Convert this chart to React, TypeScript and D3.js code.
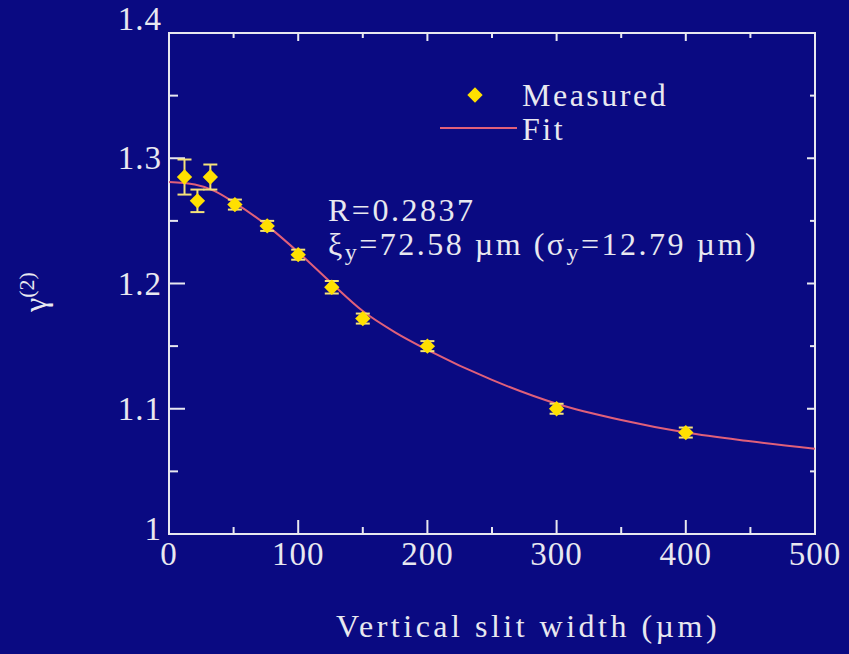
import React from 'react';
import * as d3 from 'd3';

// measured points: slit width (µm), g2 value, error
const slitWidth = [12, 22, 32, 51, 76, 100, 126, 150, 200, 300, 400];
const g2Measured = [1.285, 1.266, 1.285, 1.263, 1.246, 1.223, 1.197, 1.172, 1.150, 1.100, 1.081];
const g2Error = [0.014, 0.009, 0.010, 0.004, 0.004, 0.004, 0.005, 0.004, 0.004, 0.004, 0.004];

// fit curve
const fitX = [0, 20, 35, 50, 75, 100, 125, 150, 175, 200, 250, 300, 350, 400, 450, 500];
const fitY = [1.281, 1.279, 1.274, 1.265, 1.247, 1.225, 1.201, 1.178, 1.161, 1.147, 1.123, 1.104, 1.091, 1.081, 1.074, 1.068];

const xTicks = [0, 100, 200, 300, 400, 500];
const yTicks = [1, 1.1, 1.2, 1.3, 1.4];

const W = 849;
const H = 654;
const BG = '#0a0a82';
const FG = '#e8e8f0';
const FONT = '"Liberation Serif", "DejaVu Serif", serif';

export default function App() {
  const x = d3.scaleLinear().domain([0, 500]).range([169, 815]);
  const y = d3.scaleLinear().domain([1, 1.4]).range([534, 33]);

  const fitData = fitX.map((v, i) => [v, fitY[i]] as [number, number]);
  const line = d3.line<[number, number]>()
    .x(d => x(d[0]))
    .y(d => y(d[1]))
    .curve(d3.curveMonotoneX);

  const xMinor = d3.range(0, 501, 50);
  const yMinor = d3.range(1, 1.4001, 0.05);

  const marker = d3.symbol().type(d3.symbolDiamond2).size(150)();

  return (
    <div style={{ position: 'absolute', left: 0, top: 0, background: BG, width: W, height: H }}>
      <svg width={W} height={H} style={{ display: 'block' }}>
        <rect width={W} height={H} fill={BG} />

        {/* frame */}
        <rect x={x(0)} y={y(1.4)} width={x(500) - x(0)} height={y(1) - y(1.4)}
          fill="none" stroke={FG} strokeWidth={2} />

        {/* ticks */}
        {xMinor.map(t => {
          const major = t % 100 === 0;
          return (
            <g key={'xt' + t}>
              <line x1={x(t)} x2={x(t)} y1={y(1)} y2={y(1) - (major ? 14 : 7)} stroke={FG} strokeWidth={2} />
              <line x1={x(t)} x2={x(t)} y1={y(1.4)} y2={y(1.4) + (major ? 8 : 5)} stroke={FG} strokeWidth={2} />
            </g>
          );
        })}
        {yMinor.map((t, i) => {
          const major = i % 2 === 0;
          return (
            <g key={'yt' + i}>
              <line x1={x(0)} x2={x(0) + (major ? 16 : 9)} y1={y(t)} y2={y(t)} stroke={FG} strokeWidth={2} />
              <line x1={x(500)} x2={x(500) - (major ? 8 : 5)} y1={y(t)} y2={y(t)} stroke={FG} strokeWidth={2} />
            </g>
          );
        })}

        {/* tick labels */}
        {xTicks.map(t => (
          <text key={'xl' + t} x={x(t)} y={y(1) + 31} textAnchor="middle" fill={FG}
            fontFamily={FONT} fontSize={33} letterSpacing={1}>{t}</text>
        ))}
        {yTicks.map(t => (
          <text key={'yl' + t} x={x(0) - 7} y={y(t) + (t === 1.4 ? -3 : t === 1 ? 6 : 11)} textAnchor="end" fill={FG}
            fontFamily={FONT} fontSize={33} letterSpacing={1}>{t === 1 ? '1' : t.toFixed(1)}</text>
        ))}

        {/* axis titles */}
        <text x={528} y={637} textAnchor="middle" fill={FG} fontFamily={FONT} fontSize={32} letterSpacing={3.5}>
          Vertical slit width (µm)
        </text>
        <text transform="translate(46,292) rotate(-90)" textAnchor="middle" fill={FG} fontFamily={FONT} fontSize={32}>
          γ<tspan dy={-12} fontSize={22}>(2)</tspan>
        </text>

        {/* fit curve */}
        <path d={line(fitData) || ''} fill="none" stroke="#e0607a" strokeWidth={2} />

        {/* measured points with error bars */}
        {slitWidth.map((sw, i) => {
          const cx = x(sw);
          const top = y(g2Measured[i] + g2Error[i]);
          const bot = y(g2Measured[i] - g2Error[i]);
          return (
            <g key={'p' + i} stroke="#f5e27a" strokeWidth={2}>
              <line x1={cx} x2={cx} y1={top} y2={bot} />
              <line x1={cx - 7} x2={cx + 7} y1={top} y2={top} />
              <line x1={cx - 7} x2={cx + 7} y1={bot} y2={bot} />
              <path d={marker} transform={`translate(${cx},${y(g2Measured[i])})`} fill="#ffe000" stroke="none" />
            </g>
          );
        })}

        {/* legend */}
        <path d={marker} transform="translate(475,95)" fill="#ffe000" />
        <text x={522} y={106} fill={FG} fontFamily={FONT} fontSize={32} letterSpacing={2.5}>Measured</text>
        <line x1={440} x2={517} y1={128} y2={128} stroke="#e0607a" strokeWidth={2} />
        <text x={522} y={140} fill={FG} fontFamily={FONT} fontSize={32} letterSpacing={2.5}>Fit</text>

        {/* annotation */}
        <text x={328} y={221} fill={FG} fontFamily={FONT} fontSize={32} letterSpacing={2.5}>R=0.2837</text>
        <text x={328} y={255} fill={FG} fontFamily={FONT} fontSize={32} letterSpacing={2.5}>
          ξ<tspan dy={5} fontSize={24}>y</tspan><tspan dy={-5}>=72.58 µm (σ</tspan><tspan dy={5} fontSize={24}>y</tspan><tspan dy={-5}>=12.79 µm)</tspan>
        </text>
      </svg>
    </div>
  );
}
